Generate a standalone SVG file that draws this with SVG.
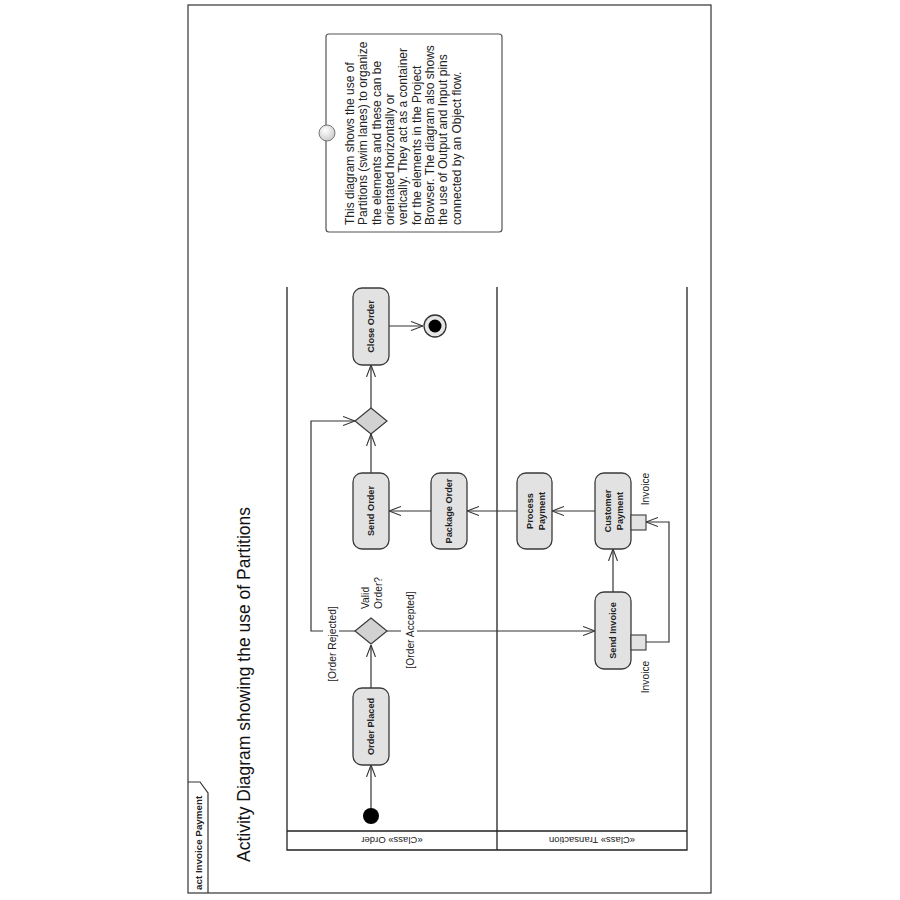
<svg xmlns="http://www.w3.org/2000/svg" width="900" height="900" viewBox="0 0 900 900">
  <style>
    .frame { fill: #ffffff; stroke: #333333; stroke-width: 1.2; }
    .lane { fill: none; stroke: #222222; stroke-width: 1.3; }
    .act { fill: #e2e2e2; stroke: #3a3a3a; stroke-width: 1.3; }
    .dec { fill: #d2d2d2; stroke: #3a3a3a; stroke-width: 1.2; }
    .pin { fill: #e2e2e2; stroke: #3a3a3a; stroke-width: 1.1; }
    .flow { fill: none; stroke: #333333; stroke-width: 1.2; marker-end: url(#open); }
    .lbl { font-family: "Liberation Sans", Arial, sans-serif; font-size: 10.3px; fill: #222222; }
    .head { font-family: "Liberation Sans", Arial, sans-serif; font-size: 9.5px; fill: #222222; }
    .node { font-family: "Liberation Sans", Arial, sans-serif; font-size: 9.2px; font-weight: bold; fill: #222222; text-anchor: middle; }
    .note { font-family: "Liberation Sans", Arial, sans-serif; font-size: 12px; fill: #222222; }
  </style>
  <defs>
    <marker id="open" viewBox="0 0 12 10" refX="12" refY="5" markerWidth="12" markerHeight="10" markerUnits="userSpaceOnUse" orient="auto">
      <path d="M0,0.5 L12,5 L0,9.5" fill="none" stroke="#333333" stroke-width="1.1"/>
    </marker>
    <radialGradient id="knob" cx="0.4" cy="0.35" r="0.7">
      <stop offset="0" stop-color="#ffffff"/>
      <stop offset="1" stop-color="#c8c8c8"/>
    </radialGradient>
  </defs>

  <!-- diagram frame and name tab -->
  <g id="frame">
    <rect class="frame" x="188" y="5" width="523" height="888"/>
    <path d="M188,782 L200,782 L208,793 L208,893" fill="none" stroke="#333333" stroke-width="1.2"/>
    <text transform="translate(202,890) rotate(-90)" font-family="'Liberation Sans', Arial, sans-serif" font-size="9.8" font-weight="bold" fill="#222222">act Invoice Payment</text>
    <text transform="translate(250,862) rotate(-90)" font-family="'Liberation Sans', Arial, sans-serif" font-size="17.5" fill="#111111">Activity Diagram showing the use of Partitions</text>
  </g>

  <!-- partitions -->
  <g id="partitions">
    <path class="lane" d="M287,287 L287,850 L687,850 L687,287 M497,287 L497,850 M287,831 L687,831"/>
    <text class="head" transform="translate(392,840) rotate(180)" text-anchor="middle" y="3.5">«Class» Order</text>
    <text class="head" transform="translate(592,840) rotate(180)" text-anchor="middle" y="3.5">«Class» Transaction</text>
  </g>

  <!-- note -->
  <g id="note">
    <rect x="326" y="34" width="176" height="198" rx="3" fill="#ffffff" stroke="#555555" stroke-width="1.2"/>
    <circle cx="327" cy="133" r="8" fill="url(#knob)" stroke="#777777" stroke-width="1"/>
    <text class="note" transform="translate(354,225) rotate(-90)">This diagram shows the use of</text>
    <text class="note" transform="translate(367.3,225) rotate(-90)">Partitions (swim lanes) to organize</text>
    <text class="note" transform="translate(380.6,225) rotate(-90)">the elements and these can be</text>
    <text class="note" transform="translate(394,225) rotate(-90)">orientated horizontally or</text>
    <text class="note" transform="translate(407.3,225) rotate(-90)">vertically. They act as a container</text>
    <text class="note" transform="translate(420.6,225) rotate(-90)">for the elements in the Project</text>
    <text class="note" transform="translate(434,225) rotate(-90)">Browser. The diagram also shows</text>
    <text class="note" transform="translate(447.3,225) rotate(-90)">the use of Output and Input pins</text>
    <text class="note" transform="translate(460.6,225) rotate(-90)">connected by an Object flow.</text>
  </g>

  <!-- connectors -->
  <g id="connectors">
    <line class="flow" x1="371" y1="808" x2="371" y2="765"/>
    <line class="flow" x1="371" y1="688" x2="371" y2="645"/>
    <line class="flow" x1="387" y1="631" x2="595" y2="631"/>
    <polyline class="flow" points="355,631 311,631 311,421 355,421"/>
    <line class="flow" x1="613" y1="592" x2="613" y2="549"/>
    <polyline class="flow" points="646,642 669,642 669,522 646,522"/>
    <line class="flow" x1="595" y1="511" x2="552" y2="511"/>
    <line class="flow" x1="517" y1="511" x2="467" y2="511"/>
    <line class="flow" x1="431" y1="511" x2="389" y2="511"/>
    <line class="flow" x1="371" y1="473" x2="371" y2="434"/>
    <line class="flow" x1="371" y1="408" x2="371" y2="365"/>
    <line class="flow" x1="389" y1="326" x2="423" y2="326"/>
    <!-- guard labels -->
    <rect x="323" y="605" width="16" height="79" fill="#ffffff"/>
    <text class="lbl" transform="translate(336,644) rotate(-90)" text-anchor="middle">[Order Rejected]</text>
    <rect x="401" y="591" width="16" height="79" fill="#ffffff"/>
    <text class="lbl" transform="translate(414,630) rotate(-90)" text-anchor="middle">[Order Accepted]</text>
    <text class="lbl" transform="translate(369,609) rotate(-90)">Valid</text>
    <text class="lbl" transform="translate(382,609) rotate(-90)">Order?</text>
  </g>

  <!-- nodes -->
  <g id="initial">
    <circle cx="371" cy="816" r="8" fill="#000000"/>
  </g>
  <g id="order-placed">
    <rect class="act" x="353" y="688" width="36" height="77" rx="9"/>
    <text class="node" transform="translate(374,726.5) rotate(-90)">Order Placed</text>
  </g>
  <g id="valid-order">
    <polygon class="dec" points="371,618 387,631 371,644 355,631"/>
  </g>
  <g id="send-order">
    <rect class="act" x="353" y="473" width="36" height="76" rx="9"/>
    <text class="node" transform="translate(374,511) rotate(-90)">Send Order</text>
  </g>
  <g id="merge">
    <polygon class="dec" points="371,408 387,421 371,434 355,421"/>
  </g>
  <g id="close-order">
    <rect class="act" x="353" y="288" width="36" height="77" rx="9"/>
    <text class="node" transform="translate(374,326.5) rotate(-90)">Close Order</text>
  </g>
  <g id="final">
    <circle cx="435" cy="326" r="11" fill="#e6e6e6" stroke="#333333" stroke-width="1.3"/>
    <circle cx="435" cy="326" r="6.5" fill="#000000"/>
  </g>
  <g id="package-order">
    <rect class="act" x="431" y="473" width="36" height="76" rx="9"/>
    <text class="node" transform="translate(452,511) rotate(-90)">Package Order</text>
  </g>
  <g id="process-payment">
    <rect class="act" x="517" y="473" width="35" height="76" rx="9"/>
    <text class="node" transform="translate(532.5,511) rotate(-90)">Process</text>
    <text class="node" transform="translate(544.5,511) rotate(-90)">Payment</text>
  </g>
  <g id="customer-payment">
    <rect class="act" x="595" y="473" width="36" height="76" rx="9"/>
    <text class="node" transform="translate(610.5,511) rotate(-90)">Customer</text>
    <text class="node" transform="translate(622.5,511) rotate(-90)">Payment</text>
    <rect class="pin" x="631" y="515" width="15" height="15"/>
    <text class="lbl" transform="translate(648.5,489) rotate(-90)" text-anchor="middle">Invoice</text>
  </g>
  <g id="send-invoice">
    <rect class="act" x="595" y="592" width="36" height="77" rx="9"/>
    <text class="node" transform="translate(616,630.5) rotate(-90)">Send Invoice</text>
    <rect class="pin" x="631" y="635" width="15" height="15"/>
    <text class="lbl" transform="translate(648.5,677) rotate(-90)" text-anchor="middle">Invoice</text>
  </g>
</svg>
